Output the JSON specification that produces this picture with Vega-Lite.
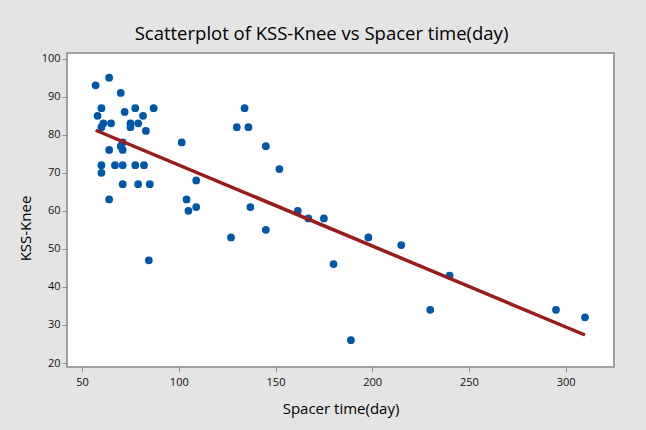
{
  "$schema": "https://vega.github.io/schema/vega-lite/v6.json",
  "width": 547,
  "height": 314,
  "autosize": {"type": "none"},
  "padding": {"left": 67, "top": 53, "right": 32, "bottom": 63},
  "background": "#e4e4e4",
  "title": {
    "text": "Scatterplot of KSS-Knee vs Spacer time(day)",
    "font": "Open Sans",
    "fontSize": 18.5,
    "fontWeight": 500,
    "color": "#000000",
    "offset": 9,
    "dx": -19
  },
  "config": {
    "view": {"stroke": "#a0a0a0", "strokeWidth": 2, "fill": "#ffffff"},
    "axis": {
      "domain": false,
      "grid": false,
      "tickColor": "#909090",
      "tickSize": 5,
      "labelFont": "Open Sans",
      "labelFontSize": 11,
      "labelColor": "#111111",
      "titleFont": "Open Sans",
      "titleFontSize": 15,
      "titleFontWeight": 500,
      "titleColor": "#000000"
    }
  },
  "data": {
    "values": [
      {"t": 57, "k": 93}, {"t": 64, "k": 95}, {"t": 70, "k": 91}, {"t": 60, "k": 87},
      {"t": 58, "k": 85}, {"t": 61, "k": 83}, {"t": 65, "k": 83}, {"t": 60, "k": 82},
      {"t": 72, "k": 86}, {"t": 77.5, "k": 87}, {"t": 81.5, "k": 85}, {"t": 87, "k": 87},
      {"t": 75, "k": 83}, {"t": 75, "k": 82}, {"t": 79, "k": 83}, {"t": 83, "k": 81},
      {"t": 71, "k": 78}, {"t": 70, "k": 77}, {"t": 71, "k": 76}, {"t": 64, "k": 76},
      {"t": 101.5, "k": 78}, {"t": 60, "k": 72}, {"t": 60, "k": 70}, {"t": 67, "k": 72},
      {"t": 71, "k": 72}, {"t": 77.5, "k": 72}, {"t": 82, "k": 72}, {"t": 71, "k": 67},
      {"t": 79, "k": 67}, {"t": 85, "k": 67}, {"t": 109, "k": 68}, {"t": 64, "k": 63},
      {"t": 104, "k": 63}, {"t": 105, "k": 60}, {"t": 109, "k": 61}, {"t": 84.5, "k": 47},
      {"t": 134, "k": 87}, {"t": 130, "k": 82}, {"t": 136, "k": 82}, {"t": 145, "k": 77},
      {"t": 152, "k": 71}, {"t": 137, "k": 61}, {"t": 127, "k": 53}, {"t": 145, "k": 55},
      {"t": 161.5, "k": 60}, {"t": 167, "k": 58}, {"t": 175, "k": 58}, {"t": 180, "k": 46},
      {"t": 198, "k": 53}, {"t": 215, "k": 51}, {"t": 240, "k": 43}, {"t": 230, "k": 34},
      {"t": 189, "k": 26}, {"t": 295, "k": 34}, {"t": 310, "k": 32}
    ]
  },
  "encoding": {
    "x": {
      "field": "t",
      "type": "quantitative",
      "title": "Spacer time(day)",
      "scale": {"domain": [42.2, 325], "nice": false, "zero": false},
      "axis": {"values": [50, 100, 150, 200, 250, 300], "labelPadding": 4, "titlePadding": 14}
    },
    "y": {
      "field": "k",
      "type": "quantitative",
      "title": "KSS-Knee",
      "scale": {"domain": [18.95, 101.5], "nice": false, "zero": false},
      "axis": {"values": [20, 30, 40, 50, 60, 70, 80, 90, 100], "labelPadding": 2, "titlePadding": 8, "titleY": 175}
    }
  },
  "layer": [
    {
      "mark": {"type": "circle", "size": 60, "color": "#0056a8", "opacity": 1}
    },
    {
      "transform": [{"regression": "k", "on": "t"}],
      "mark": {"type": "line", "color": "#9b1b1b", "strokeWidth": 3.5}
    }
  ]
}
